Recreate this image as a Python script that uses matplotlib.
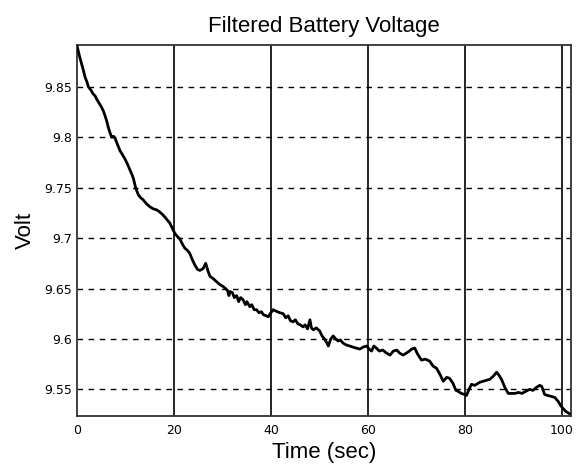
import matplotlib
matplotlib.use("Agg")
import matplotlib.pyplot as plt

time_sec = [0, 0.5, 0.9, 1.3, 1.6, 2.0, 2.3, 2.8, 3.3, 3.7, 4.0, 4.5, 5.0, 5.4, 5.7, 6.1, 6.4, 6.8, 7.1, 7.5,
            7.8, 8.3, 8.8, 9.3, 9.8, 10.4, 10.9, 11.3, 11.6, 12.0, 12.2, 12.6, 13.1, 13.6, 14.3, 15.0, 15.7, 16.4,
            17.0, 17.7, 18.4, 19.1, 19.6, 20.1, 20.6, 21.2, 21.7, 22.2, 22.7, 23.2, 23.8, 24.3, 24.8, 25.3, 25.7,
            26.0, 26.5, 27.0, 27.4, 28.0, 28.7, 29.4, 30.1, 30.6, 31.0, 31.3, 31.5, 32.0, 32.4, 32.9, 33.3, 33.7,
            34.2, 34.7, 35.0, 35.6, 36.0, 36.5, 37.0, 37.5, 38.0, 38.4, 39.0, 39.4, 39.8, 40.4, 40.8, 41.3, 41.8,
            42.5, 43.0, 43.5, 44.0, 44.5, 45.0, 45.5, 46.0, 46.6, 47.0, 47.5, 48.0, 48.3, 48.7, 49.3, 50.0, 50.5,
            51.0, 51.5, 51.8, 52.3, 52.8, 53.3, 53.8, 54.3, 54.8, 55.5, 56.2, 56.8, 57.5, 58.3, 59.0, 59.7, 60.2,
            60.7, 61.2, 61.7, 62.3, 63.0, 63.8, 64.5, 65.2, 65.9, 66.5, 67.2, 67.9, 68.5, 69.0, 69.6, 70.2, 71.0,
            71.8, 72.7, 73.4, 74.1, 74.8, 75.5, 76.2, 76.8, 77.5, 78.1, 78.6, 79.2, 79.9, 80.3, 80.8, 81.3, 82.0,
            83.0, 83.7, 84.4, 85.1, 85.8, 86.5, 87.0, 87.5, 88.2, 88.9, 89.6, 90.3, 91.0, 91.7, 92.5, 93.3, 94.0,
            94.7, 95.4, 95.8, 96.4, 97.0, 97.8, 98.5, 99.2, 99.7, 100.2, 100.8, 101.5]

voltage = [9.890, 9.880, 9.873, 9.866, 9.860, 9.855, 9.850, 9.847, 9.843, 9.841, 9.838, 9.834, 9.830, 9.826,
           9.822, 9.816, 9.810, 9.804, 9.800, 9.801, 9.799, 9.793, 9.787, 9.783, 9.779, 9.773, 9.7675, 9.763,
           9.759, 9.751, 9.748, 9.743, 9.740, 9.738, 9.734, 9.731, 9.729, 9.728, 9.726, 9.723, 9.719, 9.715,
           9.710, 9.705, 9.702, 9.699, 9.694, 9.690, 9.688, 9.685, 9.678, 9.673, 9.669, 9.668, 9.669, 9.670,
           9.675, 9.667, 9.662, 9.660, 9.657, 9.654, 9.652, 9.650, 9.648, 9.643, 9.647, 9.646, 9.641, 9.643,
           9.637, 9.641, 9.639, 9.634, 9.637, 9.632, 9.634, 9.629, 9.629, 9.626, 9.627, 9.624, 9.623, 9.622,
           9.625, 9.629, 9.628, 9.627, 9.626, 9.625, 9.621, 9.623, 9.618, 9.617, 9.619, 9.615, 9.614, 9.612,
           9.614, 9.610, 9.619, 9.611, 9.609, 9.611, 9.608, 9.603, 9.600, 9.596, 9.593, 9.600, 9.603, 9.600,
           9.598, 9.599, 9.596, 9.594, 9.593, 9.592, 9.591, 9.590, 9.592, 9.593, 9.590, 9.588, 9.593, 9.591,
           9.588, 9.589, 9.586, 9.584, 9.588, 9.589, 9.586, 9.584, 9.586, 9.588, 9.590, 9.591, 9.585, 9.579,
           9.580, 9.578, 9.573, 9.571, 9.565, 9.558, 9.562, 9.561, 9.556, 9.549, 9.548, 9.546, 9.545, 9.544,
           9.550, 9.555, 9.554, 9.557, 9.558, 9.559, 9.560, 9.563, 9.567, 9.564, 9.560, 9.552, 9.546, 9.546,
           9.546, 9.547, 9.546, 9.548, 9.550, 9.549, 9.552, 9.554, 9.553, 9.545, 9.544, 9.543, 9.542, 9.538,
           9.534, 9.531, 9.528, 9.526]

x_ticks = [0, 20, 40, 60, 80, 100]
y_ticks = [9.55, 9.6, 9.65, 9.7, 9.75, 9.8, 9.85]
y_tick_labels = ["9.55", "9.6", "9.65", "9.7", "9.75", "9.8", "9.85"]

fig = plt.figure(figsize=(5.76, 4.69), dpi=100)
ax = fig.add_axes([0.134, 0.113, 0.857, 0.790])

ax.plot(time_sec, voltage, color="black", linewidth=2.0, zorder=3)

ax.set_xlim(0, 101.8)
ax.set_ylim(9.5236, 9.891)
ax.set_xticks(x_ticks)
ax.set_yticks(y_ticks)
ax.set_yticklabels(y_tick_labels)

for xv in x_ticks[1:]:
    ax.axvline(xv, color="black", linewidth=1.2, zorder=2)
for yv in y_ticks:
    ax.axhline(yv, color="black", linewidth=1.0, linestyle=(0, (4, 4)), zorder=1)

ax.tick_params(axis="y", length=0, labelsize=9, pad=4)
ax.tick_params(axis="x", length=0, labelsize=9, pad=6)
for lab in ax.get_xticklabels() + ax.get_yticklabels():
    lab.set_family("DejaVu Sans")
for sp in ax.spines.values():
    sp.set_color("#333333")
    sp.set_linewidth(1.3)

ax.set_title("Filtered Battery Voltage", fontsize=16, family="Liberation Sans", pad=10)
ax.set_xlabel("Time (sec)", fontsize=16, family="Liberation Sans", labelpad=3)
ax.set_ylabel("Volt", fontsize=16, family="Liberation Sans", labelpad=6)

fig.savefig("out.png", dpi=100)
